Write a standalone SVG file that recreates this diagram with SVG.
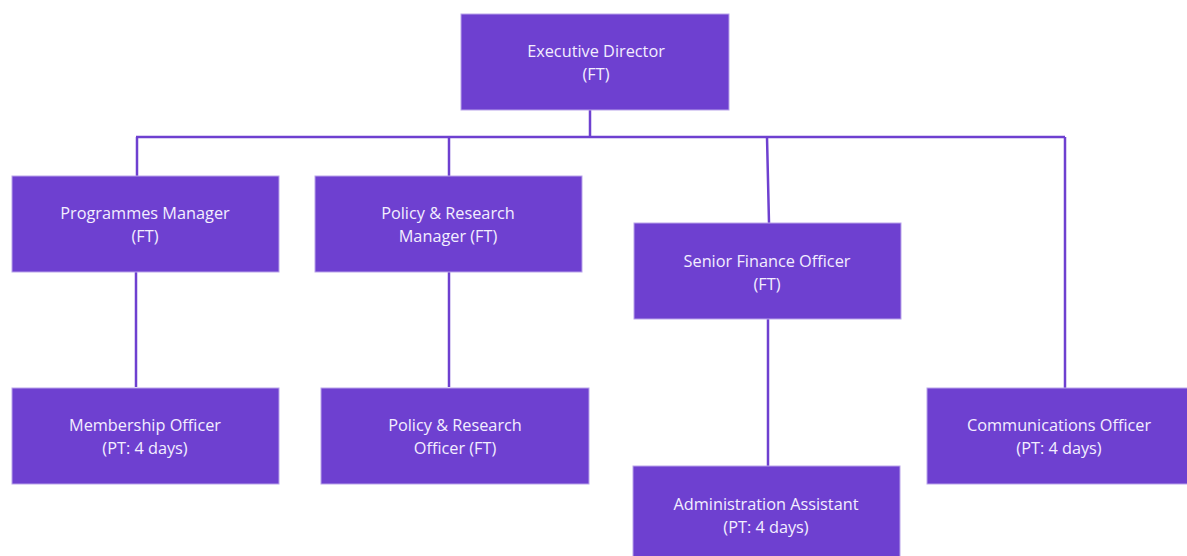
<svg xmlns="http://www.w3.org/2000/svg" width="1187" height="556" viewBox="0 0 1187 556">
<style>
.box{fill:#6e40d0;stroke:#b9a3ea;stroke-width:1}
.t{font-family:"Open Sans","Liberation Sans",Arial,sans-serif;font-size:16.3px;fill:#f3eeff;text-anchor:middle}
.c{fill:none;stroke:#6e40d0;stroke-width:2.5}
</style>
<rect width="1187" height="556" fill="#fff"/>
<g id="connectors">
<path class="c" d="M590 110V137M136 137H1065M137 137V176M449 137V176M767 137L769 223M1065 137V388M136 272V387M449 272V387M768 319V466"/>
</g>
<g id="executive-director"><rect class="box" x="461" y="14" width="268" height="96"/><text class="t" x="596" y="57">Executive Director</text><text class="t" x="596" y="80">(FT)</text></g>
<g id="programmes-manager"><rect class="box" x="12" y="176" width="267" height="96"/><text class="t" x="145" y="219">Programmes Manager</text><text class="t" x="145" y="242">(FT)</text></g>
<g id="policy-research-manager"><rect class="box" x="315" y="176" width="267" height="96"/><text class="t" x="448" y="219">Policy &amp; Research</text><text class="t" x="448" y="242">Manager (FT)</text></g>
<g id="senior-finance-officer"><rect class="box" x="634" y="223" width="267" height="96"/><text class="t" x="767" y="267">Senior Finance Officer</text><text class="t" x="767" y="290">(FT)</text></g>
<g id="membership-officer"><rect class="box" x="12" y="388" width="267" height="96"/><text class="t" x="145" y="431">Membership Officer</text><text class="t" x="145" y="454">(PT: 4 days)</text></g>
<g id="policy-research-officer"><rect class="box" x="321" y="388" width="268" height="96"/><text class="t" x="455" y="431">Policy &amp; Research</text><text class="t" x="455" y="454">Officer (FT)</text></g>
<g id="administration-assistant"><rect class="box" x="633" y="466" width="267" height="96"/><text class="t" x="766" y="510">Administration Assistant</text><text class="t" x="766" y="533">(PT: 4 days)</text></g>
<g id="communications-officer"><rect class="box" x="927" y="388" width="266" height="96"/><text class="t" x="1059" y="431">Communications Officer</text><text class="t" x="1059" y="454">(PT: 4 days)</text></g>
</svg>
